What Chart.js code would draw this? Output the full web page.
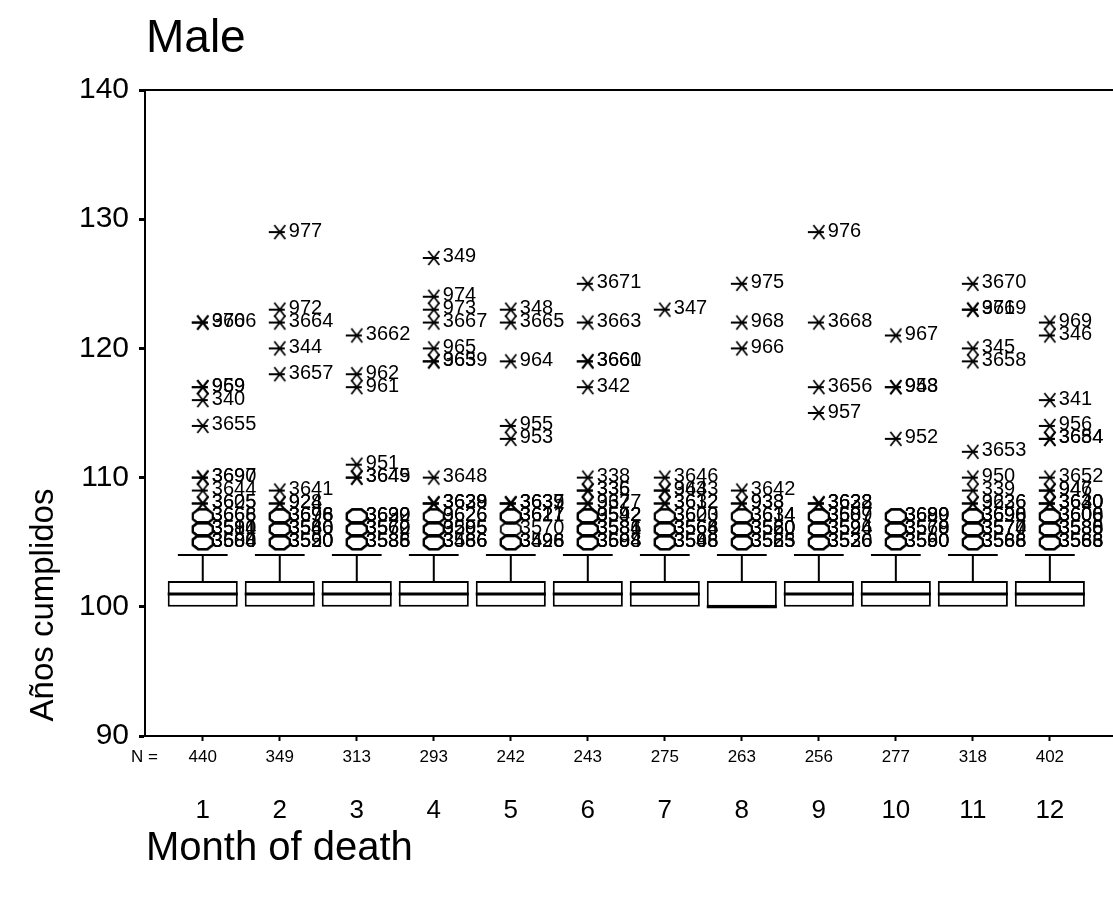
<!DOCTYPE html>
<html>
<head>
<meta charset="utf-8">
<script src="https://cdn.jsdelivr.net/npm/chart.js@4.4.1/dist/chart.umd.min.js"></script>
<style>
html,body{margin:0;padding:0;background:#fff;}
#wrap{width:1113px;height:915px;position:relative;}
canvas{display:block;}
</style>
</head>
<body>
<div id="wrap"><canvas id="c" width="1113" height="915"></canvas></div>
<script>
// ---------------- DATA ----------------
const chartTitle = "Male";
const xTitle = "Month of death";
const yTitle = "Años cumplidos";
const months = [1,2,3,4,5,6,7,8,9,10,11,12];
const nCounts = [440,349,313,293,242,243,275,263,256,277,318,402];
const q1 = [100,100,100,100,100,100,100,100,100,100,100,100];
const medians = [101,101,101,101,101,101,101,100,101,101,101,101];
const q3 = [102,102,102,102,102,102,102,102,102,102,102,102];
const whiskerLow = [100,100,100,100,100,100,100,100,100,100,100,100];
const whiskerHigh = [104,104,104,104,104,104,104,104,104,104,104,104];
const yTicks = [90,100,110,120,130,140];

// extreme values (stars): [month, value, case label]
const extremes = [
  [1,122,"970"],[1,122,"3666"],[1,117,"969"],[1,117,"959"],[1,116,"340"],[1,114,"3655"],
  [1,110,"3690"],[1,110,"3697"],[1,109,"3644"],[1,108,"3625"],[1,108,"3605"],
  [2,129,"977"],[2,123,"972"],[2,122,"3664"],[2,120,"344"],[2,118,"3657"],[2,109,"3641"],
  [2,108,"928"],[2,108,"924"],
  [3,121,"3662"],[3,118,"962"],[3,117,"961"],[3,111,"951"],[3,110,"3649"],[3,110,"3645"],
  [4,127,"349"],[4,124,"974"],[4,123,"973"],[4,122,"3667"],[4,120,"965"],[4,119,"963"],[4,119,"3659"],
  [4,110,"3648"],[4,108,"3639"],[4,108,"3629"],[4,108,"3638"],
  [5,123,"348"],[5,122,"3665"],[5,119,"964"],[5,114,"955"],[5,113,"953"],
  [5,108,"3635"],[5,108,"3637"],[5,108,"3639"],
  [6,125,"3671"],[6,122,"3663"],[6,119,"3660"],[6,119,"3661"],[6,117,"342"],[6,110,"338"],
  [6,109,"335"],[6,109,"336"],[6,108,"937"],[6,108,"3627"],
  [7,123,"347"],[7,110,"3646"],[7,109,"3643"],[7,109,"943"],[7,108,"3632"],[7,108,"3612"],
  [8,125,"975"],[8,122,"968"],[8,120,"966"],[8,109,"3642"],[8,108,"938"],[8,108,"933"],
  [9,129,"976"],[9,122,"3668"],[9,117,"3656"],[9,115,"957"],[9,108,"3633"],[9,108,"3628"],[9,108,"3622"],
  [10,121,"967"],[10,117,"958"],[10,117,"943"],[10,113,"952"],
  [11,125,"3670"],[11,123,"971"],[11,123,"3669"],[11,120,"345"],[11,119,"3658"],[11,112,"3653"],
  [11,110,"950"],[11,109,"339"],[11,108,"3626"],[11,108,"9236"],
  [12,122,"969"],[12,121,"346"],[12,116,"341"],[12,114,"956"],[12,113,"3654"],[12,113,"3684"],
  [12,110,"3652"],[12,109,"947"],[12,109,"946"],[12,108,"3640"],[12,108,"3630"],[12,108,"3620"]
];
// mild outliers (circles): [month, value, case label]
const outliers = [
  [1,107,"3668"],[1,107,"3666"],[1,106,"3514"],[1,106,"3581"],[1,106,"3590"],[1,105,"3600"],[1,105,"3584"],[1,105,"3588"],
  [2,107,"3696"],[2,107,"3698"],[2,107,"3676"],[2,106,"3580"],[2,106,"3546"],[2,106,"3560"],[2,105,"3590"],[2,105,"3550"],[2,105,"3520"],
  [3,107,"3639"],[3,107,"3620"],[3,107,"3692"],[3,106,"3579"],[3,106,"3560"],[3,106,"3562"],[3,105,"3585"],[3,105,"3536"],[3,105,"3588"],
  [4,107,"9626"],[4,107,"3626"],[4,106,"3595"],[4,106,"3585"],[4,106,"9205"],[4,105,"3586"],[4,105,"3566"],[4,105,"3486"],
  [5,107,"3627"],[5,107,"3617"],[5,107,"3621"],[5,106,"3570"],[5,105,"3498"],[5,105,"3526"],[5,105,"3496"],
  [6,107,"9592"],[6,107,"3592"],[6,107,"3542"],[6,106,"3584"],[6,106,"3581"],[6,106,"3586"],[6,105,"3594"],[6,105,"3608"],[6,105,"3588"],
  [7,107,"3620"],[7,107,"3603"],[7,106,"3566"],[7,106,"3564"],[7,106,"3568"],[7,105,"3548"],[7,105,"3566"],[7,105,"3598"],
  [8,107,"3634"],[8,107,"3614"],[8,106,"3580"],[8,106,"3560"],[8,106,"3520"],[8,105,"3563"],[8,105,"3525"],[8,105,"3585"],
  [9,107,"3607"],[9,107,"3587"],[9,107,"3589"],[9,106,"3594"],[9,106,"3524"],[9,106,"3596"],[9,105,"3526"],[9,105,"3520"],[9,105,"3536"],
  [10,107,"3699"],[10,107,"3689"],[10,107,"3680"],[10,106,"3579"],[10,106,"3568"],[10,106,"3570"],[10,105,"3590"],[10,105,"3550"],[10,105,"3560"],
  [11,107,"3690"],[11,107,"3696"],[11,107,"3698"],[11,106,"3574"],[11,106,"3570"],[11,106,"3577"],[11,105,"3588"],[11,105,"3568"],[11,105,"3566"],
  [12,107,"3608"],[12,107,"3600"],[12,107,"3606"],[12,106,"3585"],[12,106,"3580"],[12,106,"3588"],[12,105,"3586"],[12,105,"3568"],[12,105,"3563"]
];

// ---------------- STYLE ----------------
const FONT = "'Liberation Sans', Arial, Helvetica, sans-serif";

function makeStar(){
  const c = document.createElement('canvas'); c.width = 26; c.height = 18;
  const g = c.getContext('2d'); g.strokeStyle = '#000'; g.lineWidth = 1.8;
  const cx = 13, cy = 9;
  g.beginPath();
  g.moveTo(cx-5.5, cy-7); g.lineTo(cx+5.5, cy+7);
  g.moveTo(cx+5.5, cy-7); g.lineTo(cx-5.5, cy+7);
  g.moveTo(cx-11, cy); g.lineTo(cx+5, cy);
  g.stroke();
  return c;
}
function makeCircle(){
  const c = document.createElement('canvas'); c.width = 26; c.height = 18;
  const g = c.getContext('2d'); g.strokeStyle = '#000'; g.lineWidth = 1.8;
  const cx = 13, cy = 9, a = 10, b = 7;
  g.beginPath();
  g.moveTo(cx-a*0.45, cy-b); g.lineTo(cx+a*0.45, cy-b);
  g.lineTo(cx+a, cy-b*0.4); g.lineTo(cx+a, cy+b*0.4);
  g.lineTo(cx+a*0.45, cy+b); g.lineTo(cx-a*0.45, cy+b);
  g.lineTo(cx-a, cy+b*0.4); g.lineTo(cx-a, cy-b*0.4);
  g.closePath(); g.stroke();
  return c;
}
const starImg = makeStar();
const circImg = makeCircle();

const toPts = arr => arr.map(r => ({x:r[0], y:r[1], label:r[2]}));

const boxPlugin = {
  id: 'boxExtras',
  afterDatasetsDraw(chart){
    const ctx = chart.ctx, xs = chart.scales.x, ys = chart.scales.y;
    ctx.save();
    ctx.strokeStyle = '#000';
    months.forEach((m,i) => {
      const xc = xs.getPixelForValue(m);
      const barMeta = chart.getDatasetMeta(0).data[i];
      const hw = barMeta.width/2;
      const capHw = hw*0.71;
      ctx.lineWidth = 3;
      const my = ys.getPixelForValue(medians[i]);
      ctx.beginPath(); ctx.moveTo(xc-hw, my); ctx.lineTo(xc+hw, my); ctx.stroke();
      ctx.lineWidth = 2;
      const yq3 = ys.getPixelForValue(q3[i]), yhi = ys.getPixelForValue(whiskerHigh[i]);
      ctx.beginPath(); ctx.moveTo(xc, yq3); ctx.lineTo(xc, yhi);
      ctx.moveTo(xc-capHw, yhi); ctx.lineTo(xc+capHw, yhi); ctx.stroke();
      const yq1 = ys.getPixelForValue(q1[i]), ylo = ys.getPixelForValue(whiskerLow[i]);
      if (ylo > yq1 + 0.5){
        ctx.beginPath(); ctx.moveTo(xc, yq1); ctx.lineTo(xc, ylo);
        ctx.moveTo(xc-capHw, ylo); ctx.lineTo(xc+capHw, ylo); ctx.stroke();
      }
    });
    ctx.fillStyle = '#000';
    ctx.font = '20px ' + FONT;
    ctx.textAlign = 'left'; ctx.textBaseline = 'middle';
    [1,2].forEach(di => {
      const ds = chart.data.datasets[di];
      chart.getDatasetMeta(di).data.forEach((pt, k) => {
        ctx.fillText(ds.data[k].label, pt.x + 9, pt.y - 1);
      });
    });
    const ca = chart.chartArea;
    ctx.lineWidth = 2;
    ctx.beginPath(); ctx.moveTo(ca.left, ca.top); ctx.lineTo(ca.right, ca.top); ctx.stroke();
    ctx.font = '46px ' + FONT; ctx.textBaseline = 'alphabetic';
    ctx.fillText(chartTitle, 146, 52);
    ctx.font = '40px ' + FONT;
    ctx.fillText(xTitle, 146, 860);
    ctx.font = '17px ' + FONT; ctx.textAlign = 'right'; ctx.textBaseline = 'middle';
    ctx.fillText('N =', 158, 757);
    ctx.save();
    ctx.translate(44, 605); ctx.rotate(-Math.PI/2);
    ctx.font = '33px ' + FONT; ctx.textAlign = 'center'; ctx.textBaseline = 'middle';
    ctx.fillText(yTitle, 0, 0);
    ctx.restore();
    ctx.restore();
  }
};

const noSidePad = s => { s.paddingLeft = 0; s.paddingRight = 0; };

new Chart(document.getElementById('c'), {
  type: 'bar',
  data: {
    datasets: [
      {
        type: 'bar',
        data: months.map((m,i) => ({x:m, y:[q1[i], q3[i]]})),
        backgroundColor: '#fff', borderColor: '#000', borderWidth: 2, borderSkipped: false,
        barPercentage: 0.91, categoryPercentage: 1.0, order: 2
      },
      {
        type: 'scatter', data: toPts(extremes), pointStyle: starImg, pointRadius: 8, order: 1
      },
      {
        type: 'scatter', data: toPts(outliers), pointStyle: circImg, pointRadius: 8, order: 1
      }
    ]
  },
  options: {
    responsive: false, animation: false, devicePixelRatio: 1,
    layout: { autoPadding: false, padding: { top: 90, left: 0, right: 0, bottom: 84 } },
    plugins: { legend: {display:false}, tooltip: {enabled:false}, title: {display:false} },
    scales: {
      x: {
        type: 'linear', min: 0.25, max: 12.82, position: 'bottom', offset: false,
        afterBuildTicks: s => { s.ticks = months.map(v => ({value:v})); },
        afterFit: s => { s.height = 35; noSidePad(s); },
        ticks: { callback: v => String(nCounts[months.indexOf(v)]), font: {family: FONT, size: 17}, color: '#000', padding: 6, maxRotation: 0, autoSkip: false },
        grid: { offset: false, drawOnChartArea: false, drawTicks: true, tickLength: 5, tickWidth: 2, tickColor: '#000' },
        border: { display: true, color: '#000', width: 2 }
      },
      x2: {
        type: 'linear', min: 0.25, max: 12.82, position: 'bottom', offset: false,
        afterBuildTicks: s => { s.ticks = months.map(v => ({value:v})); },
        afterFit: s => { s.height = 60; noSidePad(s); },
        ticks: { callback: v => String(v), font: {family: FONT, size: 26}, color: '#000', padding: 24, maxRotation: 0, autoSkip: false },
        grid: { display: false, drawTicks: false, offset: false },
        border: { display: false }
      },
      y: {
        type: 'linear', min: 90, max: 140,
        afterBuildTicks: s => { s.ticks = yTicks.map(v => ({value:v})); },
        afterFit: s => { s.width = 145; },
        ticks: { font: {family: FONT, size: 30}, color: '#000', padding: 10 },
        grid: { drawOnChartArea: false, drawTicks: true, tickLength: 6, tickWidth: 3, tickColor: '#000' },
        border: { display: true, color: '#000', width: 2 }
      }
    }
  },
  plugins: [boxPlugin]
});
</script>
</body>
</html>
